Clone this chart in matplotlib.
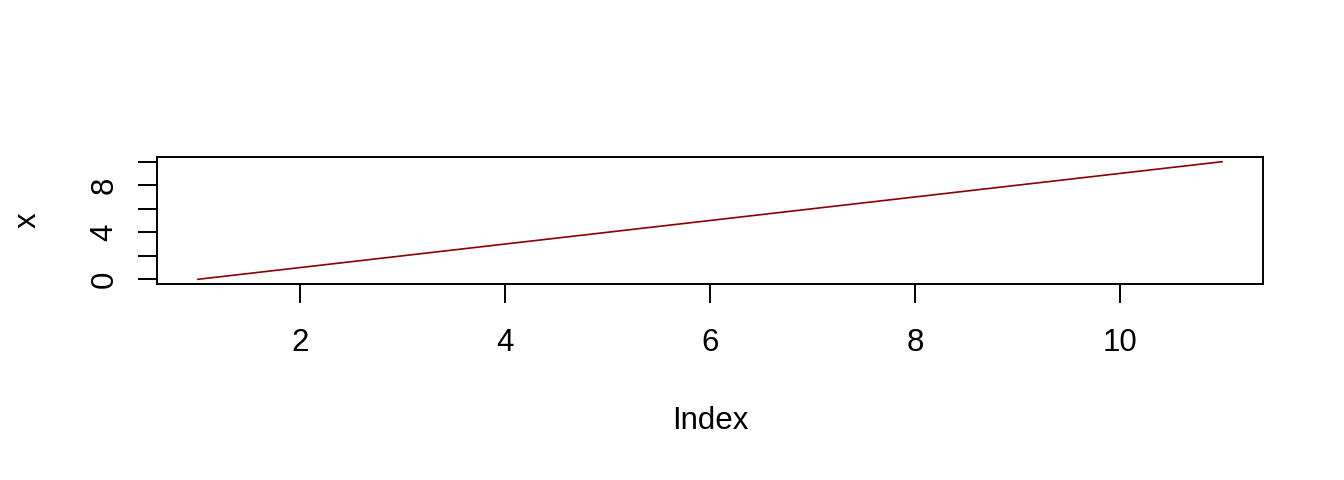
import numpy as np
import matplotlib.pyplot as plt

plt.rcParams['font.family'] = ['Liberation Sans', 'DejaVu Sans']

# data: x = 0..10 plotted against its index
index = [1, 2, 3, 4, 5, 6, 7, 8, 9, 10, 11]
x = [0, 1, 2, 3, 4, 5, 6, 7, 8, 9, 10]

fig = plt.figure(figsize=(13.44, 4.8), dpi=100)
ax = fig.add_axes([157/1344, 1 - 284/480, (1263-157)/1344, (284-157)/480])

ax.plot(index, x, color='#8B0000', lw=1.2)

ax.set_xlim(0.6, 11.4)
ax.set_ylim(-0.4, 10.4)
ax.set_xticks([2, 4, 6, 8, 10])
ax.set_yticks([0, 2, 4, 6, 8, 10])
ax.set_yticklabels(['0', '', '4', '', '8', ''], rotation=90, va='center')

for s in ax.spines.values():
    s.set_linewidth(1.4)
ax.tick_params(direction='out', length=14, width=1.4, labelsize=22.5, pad=18)
ax.tick_params(axis='y', pad=13)

ax.set_xlabel('Index', fontsize=22.5, labelpad=34)
ax.set_ylabel('x', fontsize=22.5, labelpad=34)

fig.savefig('out.png', dpi=100)
